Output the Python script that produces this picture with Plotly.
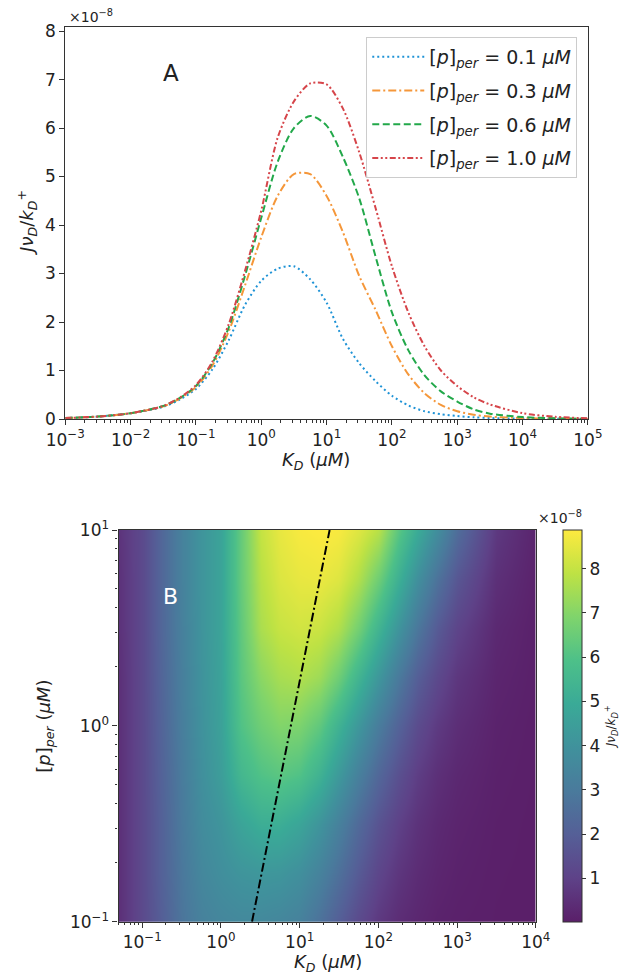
import plotly.graph_objects as go

# ---------------- Panel A data (values in units of 1e-8) ----------------
kd_a = [0.001, 0.00316, 0.01, 0.0316, 0.0562, 0.1, 0.178, 0.316, 0.562, 1.0,
        1.78, 3.16, 5.62, 10.0, 17.8, 31.6, 56.2, 100.0, 178.0, 316.0, 562.0,
        1000.0, 1778.0, 3162.0, 10000.0, 31623.0, 100000.0]
y_p01 = [0.02, 0.05, 0.12, 0.25, 0.4, 0.62, 1.02, 1.62, 2.35, 2.85, 3.1, 3.15, 2.88,
         2.4, 1.65, 1.15, 0.78, 0.48, 0.28, 0.16, 0.1, 0.06, 0.035, 0.02, 0.008, 0.003, 0.001]
y_p03 = [0.02, 0.05, 0.12, 0.26, 0.42, 0.66, 1.1, 1.8, 2.75, 3.75, 4.6, 5.05, 5.05,
         4.6, 3.85, 2.95, 2.25, 1.5, 0.92, 0.53, 0.29, 0.16, 0.09, 0.05, 0.02, 0.007, 0.002]
y_p06 = [0.02, 0.05, 0.12, 0.27, 0.43, 0.68, 1.15, 1.88, 2.95, 4.15, 5.3, 6.0, 6.25,
         6.05, 5.4, 4.55, 3.35, 2.2, 1.42, 0.9, 0.57, 0.36, 0.2, 0.11, 0.04, 0.015, 0.005]
y_p10 = [0.02, 0.05, 0.12, 0.27, 0.44, 0.7, 1.18, 1.95, 3.05, 4.3, 5.8, 6.55, 6.92,
         6.9, 6.4, 5.5, 4.35, 3.15, 2.2, 1.5, 1.0, 0.68, 0.45, 0.3, 0.12, 0.045, 0.015]
labels_a = ["0.1", "0.3", "0.6", "1.0"]

# ---------------- Panel B data (values in units of 1e-8) ----------------
kd_b = [0.05, 0.1, 0.178, 0.316, 0.562, 1.0, 1.78, 3.16, 5.62, 10.0, 17.8, 31.6,
        56.2, 100.0, 178.0, 316.0, 562.0, 1000.0, 3162.0, 10000.0]
p_b = [0.1, 0.178, 0.316, 0.562, 1.0, 1.78, 3.16, 5.62, 10.0]
z_b = [
    [0.5, 1.3, 2.0, 2.8, 3.3, 3.5, 3.6, 3.6, 3.5, 3.3, 2.7, 2.0, 1.3, 0.75, 0.42, 0.25, 0.12, 0.07, 0.03, 0.02],
    [0.5, 1.3, 2.1, 2.9, 3.55, 3.85, 4.1, 4.2, 4.15, 3.9, 3.35, 2.65, 1.85, 1.15, 0.68, 0.4, 0.22, 0.12, 0.04, 0.02],
    [0.5, 1.3, 2.1, 3.0, 3.75, 4.1, 4.7, 5.1, 5.1, 4.75, 4.1, 3.3, 2.4, 1.6, 1.0, 0.58, 0.32, 0.18, 0.06, 0.02],
    [0.5, 1.3, 2.15, 3.05, 3.9, 4.45, 5.5, 6.0, 6.2, 6.0, 5.3, 4.3, 3.25, 2.3, 1.5, 0.9, 0.5, 0.28, 0.09, 0.03],
    [0.5, 1.3, 2.2, 3.15, 4.0, 4.6, 6.0, 6.6, 6.95, 6.85, 6.3, 5.3, 4.2, 3.1, 2.15, 1.35, 0.8, 0.45, 0.13, 0.04],
    [0.5, 1.3, 2.25, 3.2, 4.05, 4.65, 6.2, 7.1, 7.55, 7.7, 7.4, 6.6, 5.4, 4.2, 3.0, 2.0, 1.25, 0.7, 0.2, 0.06],
    [0.55, 1.3, 2.3, 3.25, 4.1, 4.7, 6.3, 7.6, 8.05, 8.2, 8.1, 7.7, 6.7, 5.4, 4.1, 2.9, 1.85, 1.1, 0.3, 0.08],
    [0.55, 1.3, 2.3, 3.3, 4.1, 4.7, 6.4, 7.8, 8.35, 8.55, 8.6, 8.4, 7.7, 6.6, 5.2, 3.9, 2.7, 1.7, 0.5, 0.12],
    [0.6, 1.3, 2.3, 3.3, 4.1, 4.7, 6.4, 8.0, 8.55, 8.8, 8.88, 8.8, 8.4, 7.8, 6.2, 5.0, 3.8, 2.5, 0.75, 0.18],
]
peak_kd = [2.48, 24.0]
peak_p = [0.1, 10.0]
z_min, z_max = 0.02, 8.88

# viridis, lightly blended with white
vir = ['#440154', '#482878', '#3e4989', '#31688e', '#26828e',
       '#1f9e89', '#35b779', '#6ece58', '#b5de2b', '#fde725']
alpha = 0.88
def blend(h):
    r, g, b = int(h[1:3], 16), int(h[3:5], 16), int(h[5:7], 16)
    f = lambda c: int(round(c * alpha + 255 * (1 - alpha)))
    return 'rgb(%d,%d,%d)' % (f(r), f(g), f(b))
cscale = [[i / (len(vir) - 1), blend(c)] for i, c in enumerate(vir)]

# page has 8px body margin; figure starts at (8, 8) and reaches the window's bottom edge
W, H = 612, 969
OFF = 8
def fx(X):
    return (X - OFF) / W
def fy(Y):
    return 1 - (Y - OFF) / H

FONT = "DejaVu Sans"
AX = "#333333"

fig = go.Figure()

colors = ["#1f93d6", "#f5973a", "#22a84a", "#d6454a"]
dashes = ["2px,3px", "8px,3px,2px,3px", "7px,3.5px", "6px,2.5px,2px,2.5px,2px,2.5px"]
for i, (ys, lab, col, ds) in enumerate(zip([y_p01, y_p03, y_p06, y_p10], labels_a, colors, dashes)):
    fig.add_trace(go.Scatter(
        x=kd_a, y=ys, mode="lines",
        line=dict(color=col, width=2, dash=ds, shape="spline", smoothing=0.8),
        name="[<i>p</i>]<sub><i>per</i></sub> = " + lab + " <i>μM</i>",
        legendgroup="g%d" % i, xaxis="x", yaxis="y"))

fig.add_trace(go.Heatmap(
    x=kd_b, y=p_b, z=z_b, zsmooth="best", colorscale=cscale, zmin=z_min, zmax=z_max,
    xaxis="x2", yaxis="y2", showscale=True,
    colorbar=dict(x=fx(566.7), xanchor="left", xpad=0, ypad=0,
                  y=fy(921.7), yanchor="bottom",
                  len=(921.7 - 530) / H, lenmode="fraction", thickness=19,
                  outlinecolor=AX, outlinewidth=1,
                  tickvals=[1, 2, 3, 4, 5, 6, 7, 8], ticks="outside", ticklen=4,
                  tickcolor=AX, tickfont=dict(family=FONT, size=17, color="#222"),
                  title=dict(text="<i>J</i><i>ν</i><sub><i>D</i></sub>/<i>k</i><sub><i>D</i></sub><sup>+</sup>",
                             side="right", font=dict(family=FONT, size=12, color="#222"))),
    showlegend=False))

fig.add_trace(go.Scatter(
    x=peak_kd, y=peak_p, mode="lines", line=dict(color="black", width=2, dash="9px,3px,2px,3px"),
    xaxis="x2", yaxis="y2", showlegend=False))

def sup(n):
    return "10<sup>" + (str(n) if n >= 0 else "−" + str(-n)) + "</sup>"

def minor_vals(lo, hi):
    out = []
    for e in range(lo, hi):
        for k in range(2, 10):
            out.append(k * 10 ** e)
    return out

common = dict(showgrid=False, zeroline=False, showline=True, linecolor=AX, linewidth=1.2,
              mirror=True, ticks="outside", tickwidth=1, tickcolor=AX, automargin=False)
TF17 = dict(family=FONT, size=17, color="#222")

TITLE_J = "<i>J</i><i>ν</i><sub><i>D</i></sub>/<i>k</i><sub><i>D</i></sub><sup>+</sup>"
TITLE_K = "<i>K</i><sub><i>D</i></sub> (<i>μM</i>)"
TITLE_P = "[<i>p</i>]<sub><i>per</i></sub> (<i>μM</i>)"

fig.update_layout(
    width=W, height=H, margin=dict(l=0, r=0, t=0, b=0),
    paper_bgcolor="white", plot_bgcolor="white",
    font=dict(family=FONT, color="#222"),
    xaxis=dict(domain=[fx(65.7), fx(591.7)], anchor="y", type="log", range=[-3, 5],
               tickmode="array", tickvals=[10 ** e for e in range(-3, 6)],
               ticktext=[sup(e) for e in range(-3, 6)], ticklen=5, tickfont=TF17,
               minor=dict(tickmode="array", tickvals=minor_vals(-3, 5), ticks="outside", ticklen=2.5, tickcolor=AX),
               **common),
    yaxis=dict(domain=[fy(419), fy(26.7)], anchor="x", range=[0, 8.09],
               tickmode="array", tickvals=list(range(0, 9)), ticklen=5, tickfont=TF17,
               **common),
    xaxis2=dict(domain=[fx(119.3), fx(539.3)], anchor="y2", type="log", range=[-1.30103, 4],
                tickmode="array", tickvals=[10 ** e for e in range(-1, 5)],
                ticktext=[sup(e) for e in range(-1, 5)], ticklen=5, tickfont=TF17,
                minor=dict(tickmode="array", tickvals=minor_vals(-2, 4), ticks="outside", ticklen=2.5, tickcolor=AX),
                **common),
    yaxis2=dict(domain=[fy(921.7), fy(530)], anchor="x2", type="log", range=[-1, 1],
                tickmode="array", tickvals=[0.1, 1, 10], ticktext=[sup(-1), sup(0), sup(1)],
                ticklen=5, tickfont=TF17,
                minor=dict(tickmode="array", tickvals=minor_vals(-1, 1), ticks="outside", ticklen=2.5, tickcolor=AX),
                **common),
    legend=dict(x=fx(581), xanchor="right", y=fy(37), yanchor="top",
                bgcolor="rgba(255,255,255,0.8)", bordercolor="#cccccc", borderwidth=1,
                font=dict(family=FONT, size=19, color="#222"), itemwidth=52,
                tracegroupgap=6),
    showlegend=True,
)

def ann(X, Y, text, size, color="#222", angle=0, xanchor="center", yanchor="middle"):
    fig.add_annotation(x=fx(X), y=fy(Y), xref="paper", yref="paper", xanchor=xanchor, yanchor=yanchor,
                       text=text, showarrow=False, textangle=angle,
                       font=dict(family=FONT, size=size, color=color))

ann(318, 461, TITLE_K, 18)
ann(27, 222, TITLE_J, 18, angle=-90)
ann(330, 963, TITLE_K, 18)
ann(45, 726, TITLE_P, 18, angle=-90)
ann(67, 16, "×10<sup>−8</sup>", 14, xanchor="left")
ann(564, 517, "×10<sup>−8</sup>", 14)
ann(172, 73, "A", 23)
ann(172, 596, "B", 22, color="white")

fig.write_html("out.html")
